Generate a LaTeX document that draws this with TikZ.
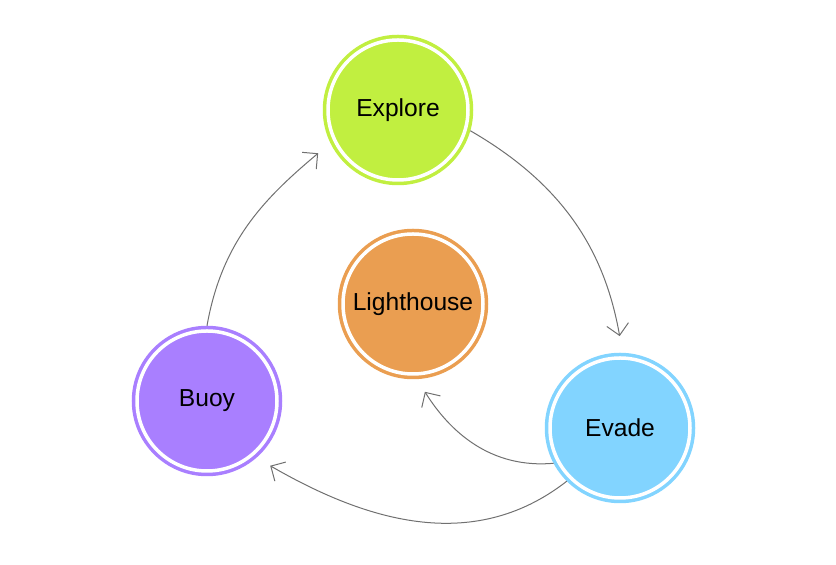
\documentclass[tikz,border=0pt]{standalone}
\usepackage{fontspec}
\setmainfont{Liberation Sans}
\usetikzlibrary{arrows.meta}
\definecolor{limefill}{RGB}{193,239,64}
\definecolor{orangefill}{RGB}{234,158,81}
\definecolor{purplefill}{RGB}{169,127,255}
\definecolor{bluefill}{RGB}{130,212,255}
\tikzset{
x=0.5pt, y=-0.5pt, % one unit is one pixel of the layout
phase/.style={circle, fill=#1, draw=#1, line width=1.75pt, double=white, double distance=1.75pt,
  minimum size=70pt, inner sep=0pt, outer sep=2.6pt, font=\fontsize{12.3}{14}\selectfont}, % ringed circle
flow/.style={draw=black!56, line width=0.5pt, -{Straight Barb[length=5.5pt, width=11pt]}}, % thin grey arrow
}
\begin{document}
\begin{tikzpicture}
    \useasboundingbox (0,0) rectangle (836,565);
    \node[phase=limefill] (explore) at (398,110) {Explore};
    \node[phase=orangefill] (lighthouse) at (413,304) {Lighthouse};
    \node[phase=purplefill] (buoy) at (207,401) {Buoy};
    \node[phase=bluefill] (evade) at (620,428) {Evade};
    \path
    (buoy.90) edge[flow, out=80, in=220, shorten >=8pt] (explore.206)
    (explore.-16) edge[flow, out=-30, in=100, shorten >=8.5pt] (evade.88)
    (evade.208) edge[flow, out=185, in=-58, shorten >=7.5pt] (lighthouse.-87)
    (evade.225) edge[flow, out=218, in=-30, shorten >=8pt] (buoy.-49);
\end{tikzpicture}
\end{document}
